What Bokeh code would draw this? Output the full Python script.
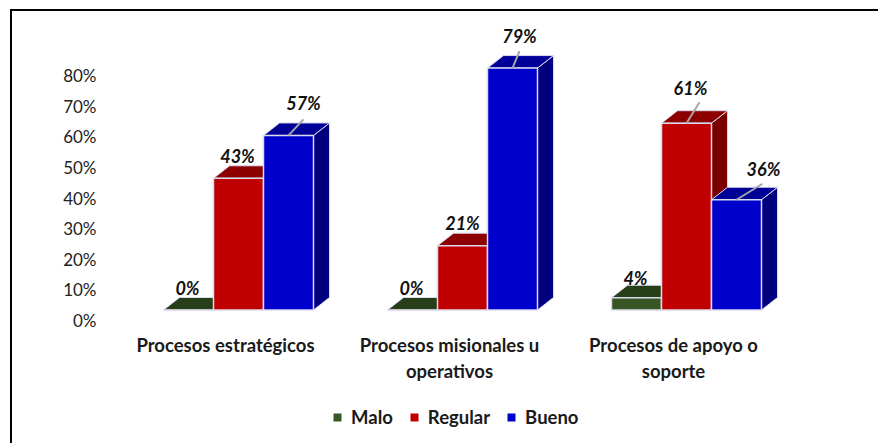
from bokeh.embed import file_html
from bokeh.layouts import column
from bokeh.models import ColumnDataSource, FixedTicker, Legend, LegendItem, LinearAxis, Range1d
from bokeh.plotting import figure
from bokeh.resources import INLINE

# Data
categories = ["Procesos estratégicos", "Procesos misionales u\noperativos", "Procesos de apoyo o\nsoporte"]
malo = [0, 0, 4]
regular = [43, 21, 61]
bueno = [57, 79, 36]
y_ticks = [0, 10, 20, 30, 40, 50, 60, 70, 80]
series_names = ["Malo", "Regular", "Bueno"]

# Faces of each series: front, top, side
face_colors = {
    "Malo": ("#375623", "#273F18", "#273F18"),
    "Regular": ("#C00000", "#8C0000", "#7A0000"),
    "Bueno": ("#0000CC", "#000099", "#000080"),
}
edge = "#DADAEE"

# Page geometry: the figures start just inside their border lines
PAGE_W, PAGE_H = 880, 445
ORIGIN_X, ORIGIN_Y = 12, 11
LEGEND_TOP = 398
W = PAGE_W - ORIGIN_X
H = LEGEND_TOP - ORIGIN_Y
FRAME_LEFT, FRAME_BOTTOM = 105, 320
GROUP_PX = 224.0
UNIT_PX = 3.0625
CENTER_PX = 225
x_start = -(CENTER_PX - FRAME_LEFT) / GROUP_PX
x_end = (PAGE_W - CENTER_PX) / GROUP_PX
y_end = (FRAME_BOTTOM - ORIGIN_Y) / UNIT_PX

# Pseudo-3D box geometry
bar_w = 50 / GROUP_PX
first_bar = -62 / GROUP_PX
depth_x = 16 / GROUP_PX
depth_y = 12.5 / UNIT_PX
floor = 10.5 / UNIT_PX

p = figure(width=W, height=H, output_backend="svg", toolbar_location=None,
           x_range=Range1d(x_start, x_end), y_range=Range1d(0, y_end),
           min_border_left=FRAME_LEFT - ORIGIN_X, min_border_right=0, min_border_top=0,
           min_border_bottom=LEGEND_TOP - FRAME_BOTTOM,
           outline_line_color=None, x_axis_location=None, y_axis_location=None,
           margin=(ORIGIN_Y - 2, 0, 0, ORIGIN_X - 2),
           styles={"border-top": "2px solid #000", "border-left": "2px solid #000"})
p.grid.visible = False

for s, (name, values) in enumerate(zip(series_names, [malo, regular, bueno])):
    front, top, side = face_colors[name]
    x0 = [i + first_bar + s * bar_w for i in range(len(values))]
    x1 = [x + bar_w for x in x0]
    base = [floor] * len(values)
    tops = [floor + v for v in values]
    # Side faces, then top faces, then front faces
    side_xs = [[b, b + depth_x, b + depth_x, b] for b in x1]
    side_ys = [[f, f + depth_y, t + depth_y, t] for f, t in zip(base, tops)]
    p.patches(side_xs, side_ys, fill_color=side, line_color=edge, line_width=1)
    top_xs = [[a, a + depth_x, b + depth_x, b] for a, b in zip(x0, x1)]
    top_ys = [[t, t + depth_y, t + depth_y, t] for t in tops]
    p.patches(top_xs, top_ys, fill_color=top, line_color=edge, line_width=1)
    p.quad(left=x0, right=x1, bottom=base, top=tops, fill_color=front, line_color=edge, line_width=1.5)

# Leader lines from selected bars up to their labels
leader_bars = [(2, 0), (2, 1), (1, 2), (2, 2)]
leader_dx = [15, 7, 13, 26]
leader_dy = [16, 17, 21, 16]
leader_sets = {0: malo, 1: regular, 2: bueno}
for (s, g), dx, dy in zip(leader_bars, leader_dx, leader_dy):
    v = leader_sets[s][g]
    cx = g + first_bar + (s + 0.5) * bar_w
    ty = floor + v
    p.line([cx, cx + dx / GROUP_PX], [ty, ty + dy / UNIT_PX], line_color="#A6A6A6", line_width=2)

# Value labels, offset from the top front edge of each bar
lab_x, lab_y, lab_text, lab_dx, lab_dy = [], [], [], [], []
offsets = {
    (0, 0): (-1, 22), (1, 0): (-1, 22), (2, 0): (15, 32),
    (0, 1): (-1, 22), (1, 1): (0, 23), (2, 1): (7, 32),
    (0, 2): (-1, 20), (1, 2): (4, 35), (2, 2): (27, 31),
}
for s, values in leader_sets.items():
    for g, v in enumerate(values):
        lab_x.append(g + first_bar + (s + 0.5) * bar_w)
        lab_y.append(floor + v)
        lab_text.append(f"{v}%")
        dx, dy = offsets[(s, g)]
        lab_dx.append(dx)
        lab_dy.append(-dy)
labels = ColumnDataSource(dict(x=lab_x, y=lab_y, text=lab_text, dx=lab_dx, dy=lab_dy))
p.text("x", "y", text="text", source=labels, x_offset="dx", y_offset="dy",
       text_font={"value": "Lato"}, text_font_size="18px", text_font_style="bold italic",
       text_color="#111111", text_align="center", text_baseline="middle")

# Axes
yaxis = LinearAxis(ticker=FixedTicker(ticks=y_ticks),
                   major_label_overrides={t: f"{t}%" for t in y_ticks},
                   axis_line_color=None, major_tick_line_color=None, minor_tick_line_color=None,
                   major_label_text_font="Lato", major_label_text_font_size="17px",
                   major_label_text_color="#222222", major_label_standoff=3)
p.add_layout(yaxis, "left")
xaxis = LinearAxis(ticker=FixedTicker(ticks=list(range(len(categories)))),
                   major_label_overrides={i: c for i, c in enumerate(categories)},
                   axis_line_color=None, major_tick_line_color=None, minor_tick_line_color=None,
                   major_label_text_font="Lato", major_label_text_font_size="18.5px",
                   major_label_text_font_style="bold", major_label_text_color="#1A1A1A",
                   major_label_standoff=7, major_label_orientation="horizontal")
p.add_layout(xaxis, "below")

# Legend strip under the chart; its keys carry the series front colours
key_fig = figure(width=W, height=PAGE_H - LEGEND_TOP, output_backend="svg", toolbar_location=None,
                 x_range=Range1d(0, 1), y_range=Range1d(0, 1),
                 min_border_left=0, min_border_right=0, min_border_top=0, min_border_bottom=0,
                 outline_line_color=None, x_axis_location=None, y_axis_location=None,
                 margin=(0, 0, 0, ORIGIN_X - 2), styles={"border-left": "2px solid #000"})
key_fig.grid.visible = False
legend_items = []
for name in series_names:
    r = key_fig.quad(left=[0], right=[0], bottom=[0], top=[0], fill_color=face_colors[name][0], line_color=None)
    legend_items.append(LegendItem(label=name, renderers=[r]))
legend = Legend(items=legend_items, orientation="horizontal", location=(227, 15),
                border_line_color=None, background_fill_alpha=0, padding=0,
                glyph_width=10, glyph_height=10, label_standoff=9, spacing=16,
                label_text_font="Lato", label_text_font_size="18.5px",
                label_text_font_style="bold", label_text_color="#1A1A1A", margin=0)
key_fig.add_layout(legend, "center")

page = column(p, key_fig, spacing=0)
open("out.html", "w").write(file_html(page, INLINE))
